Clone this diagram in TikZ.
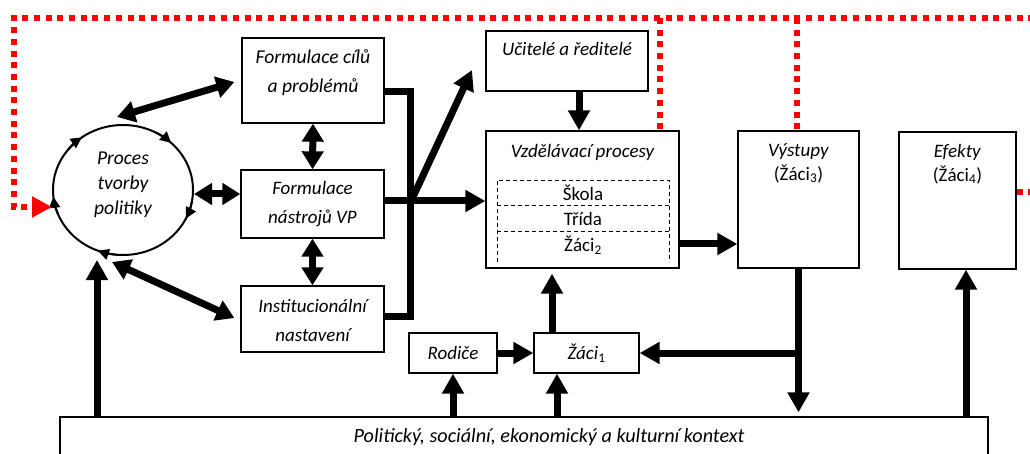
\documentclass[tikz,border=0pt]{standalone}
\usepackage{fontspec}
\setmainfont{Carlito}
\usetikzlibrary{arrows.meta,shapes.geometric,calc}

\begin{document}
\begin{tikzpicture}[x=1pt,y=-1pt,
  box/.style={draw, line width=1.3pt, rectangle, inner sep=0pt},
  lbl/.style={font=\fontsize{19}{29}\selectfont\itshape, align=center, inner sep=0pt},
  plain/.style={font=\fontsize{19}{24}\selectfont, align=center, inner sep=0pt},
  arr/.style={line width=7pt, -{Triangle[length=20pt,width=21pt]}},
  dbl/.style={line width=7pt, {Triangle[length=18pt,width=21pt]}-{Triangle[length=18pt,width=21pt]}},
  bar/.style={line width=7pt, line join=miter},
  reddot/.style={draw=red, line width=6pt, dash pattern=on 6pt off 5.7pt},
  cyc/.style={line width=2pt, -{Triangle[length=11pt,width=11pt]}}
]
\useasboundingbox (0,0) rectangle (1030,454);
\clip (0,0) rectangle (1030,454);

% boxes
\node[box, minimum width=142pt, minimum height=85pt] (cile) at (313,80.5) {};
\node[box, minimum width=143pt, minimum height=68pt] (nastroje) at (312.5,204) {};
\node[box, minimum width=143pt, minimum height=66pt] (instit) at (312.5,319) {};
\node[box, minimum width=162pt, minimum height=60pt] (ucitele) at (567,61) {};
\node[box, minimum width=193pt, minimum height=137pt] (vzdel) at (582.5,199.5) {};
\node[box, minimum width=121pt, minimum height=137pt] (vystupy) at (798.5,199.5) {};
\node[box, minimum width=117pt, minimum height=137pt] (efekty) at (957.5,200.5) {};
\node[box, minimum width=88pt, minimum height=40pt] (rodice) at (453,353) {};
\node[box, minimum width=105pt, minimum height=40pt] (zaci1) at (586.5,353) {};
\node[box, minimum width=928pt, minimum height=70pt] (kontext) at (524,452) {};

% policy cycle
\node[ellipse, draw, line width=2pt, minimum width=140pt, minimum height=130pt, inner sep=0pt] (circ) at (123,190) {};
\foreach \a in {26,111,174,234,313.5}{
  \draw[cyc] (circ.center) ++(\a-16:70 and 65) arc[start angle=\a-16, end angle=\a, x radius=70, y radius=65];
}

% inner layers of the education process
\draw[line width=0.9pt, dash pattern=on 4pt off 3pt] (497,262) -- (497,180) -- (669,180) -- (669,262);
\draw[line width=0.9pt, dash pattern=on 4pt off 3pt] (497,205.5) -- (669,205.5);
\draw[line width=0.9pt, dash pattern=on 4pt off 3pt] (497,231) -- (669,231);

% labels
\node[lbl, font=\fontsize{19.6}{29}\selectfont\itshape] (tcile) at (313,72.5) {Formulace cílů\\a problémů};
\node[lbl] (tnastr) at (312.5,204.5) {Formulace\\nástrojů VP};
\node[lbl] (tinst) at (312.5,320) {Institucionální\\nastavení};
\node[lbl] (tuc) at (567,49) {Učitelé a ředitelé};
\node[lbl] (tvz) at (582.5,152) {Vzdělávací procesy};
\node[plain] (tskola) at (583,193) {Škola};
\node[plain] (ttrida) at (583,219) {Třída};
\node[plain] (tzaci2) at (583,245) {Žáci\textsubscript{2}};
\node[lbl, font=\fontsize{19.6}{25}\selectfont\itshape] (tcirc) at (123,185) {Proces\\tvorby\\politiky};
\node[plain] (tvyst) at (798.5,163) {\textit{Výstupy}\\(Žáci\textsubscript{3})};
\node[plain] (tef) at (957.5,164) {\textit{Efekty}\\(Žáci\textsubscript{4})};
\node[lbl] (trod) at (453,353) {Rodiče};
\node[lbl] (tzaci1) at (586.5,353) {Žáci\textsubscript{\upshape 1}};
\node[lbl, font=\fontsize{20.2}{22}\selectfont\itshape] (tkon) at (549,437) {Politický, sociální, ekonomický a kulturní kontext};

% helper points
\coordinate (c1) at (117,117);
\coordinate (c3) at (112,262);
\coordinate (cb) at (97,260);
\coordinate (bt) at (410,92);
\coordinate (bb) at (410,316);
\coordinate (hub) at (410,201);
\coordinate (dA) at (413,197);
\coordinate (dB) at (472,70);
\coordinate (vv) at (0,244);
\coordinate (ua) at ($(ucitele.south)+(12,0)$);
\coordinate (za) at ($(zaci1.north)+(-34.5,0)$);
\coordinate (zb) at ($(zaci1.south)+(-29.5,0)$);
\coordinate (eb) at ($(efekty.south)+(8.5,0)$);

% connectors around the policy cycle
\draw[dbl] (c1) -- ($(cile.west)+(-7,1.5)$);
\draw[dbl] ($(circ.east)+(0,4)$) -- ($(circ.east -| nastroje.west)+(0,4)$);
\draw[dbl] (c3) -- ($(instit.west)+(-6,-1)$);
\draw[dbl] (cile.south) -- (nastroje.north);
\draw[dbl] (nastroje.south) -- (instit.north);

% policy outputs into schools
\draw[bar] ($(cile.east)+(0,11.5)$) -- (bt) -- (bb) -- (bb -| instit.east);
\draw[arr] (nastroje.east |- hub) -- (vzdel.west |- hub);
\draw[arr] (dA) -- (dB);
\draw[arr] (ua) -- (ua |- vzdel.north);
\draw[arr] (vzdel.east |- vv) -- (vystupy.west |- vv);
\draw[arr, shorten >=4pt] (vystupy.south) -- (vystupy.south |- kontext.north);
\draw[arr] (vystupy.south |- zaci1.east) -- (zaci1.east);
\draw[arr, shorten >=5pt] (za) -- (za |- vzdel.south);
\draw[arr] (rodice.east) -- (zaci1.west);
\draw[arr] (rodice.south |- kontext.north) -- (rodice.south);
\draw[arr] (zb |- kontext.north) -- (zb);
\draw[arr] (eb |- kontext.north) -- (eb);
\draw[arr] (cb |- kontext.north) -- (cb);

% feedback loop
\coordinate (rtl) at (14,18);
\coordinate (rr) at (1038,18);
\coordinate (ry) at (0,192);
\coordinate (rc) at (0,207);
\coordinate (d1) at (660,18);
\coordinate (d2) at (797,18);
\draw[reddot, -{Triangle[length=20pt,width=20pt]}, red] (efekty.east |- ry) -- (rr |- ry) -- (rr) -- (rtl) -- (rtl |- rc) -- (circ.west |- rc);
\draw[reddot] (d1) -- (d1 |- vzdel.north);
\draw[reddot] (d2) -- (d2 |- vystupy.north);
\end{tikzpicture}
\end{document}
